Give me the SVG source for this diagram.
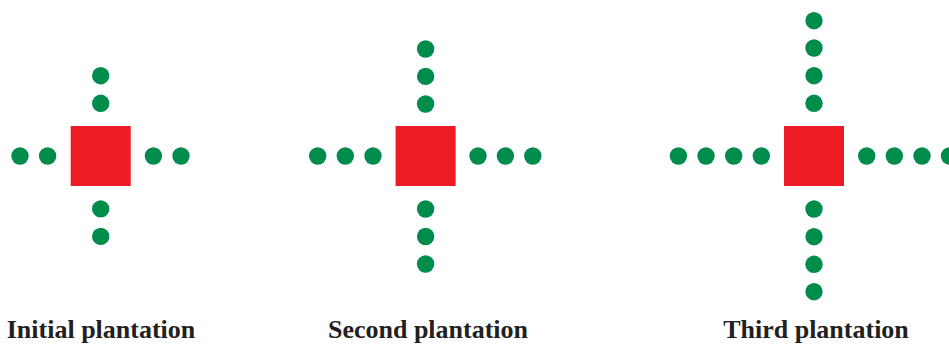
<svg xmlns="http://www.w3.org/2000/svg" width="949" height="345" viewBox="0 0 949 345">
<style>
.sq{fill:#ED1C24}
.d{fill:#008C4B}
.lbl{font-family:"Liberation Serif","Times New Roman",serif;font-weight:bold;font-size:26px;fill:#231F20;text-anchor:middle}
</style>
<rect width="949" height="345" fill="#fff"/>
<g id="connectors"></g>
<g id="initial">
<rect class="sq" x="70.7" y="126" width="60" height="60"/>
<circle class="d" cx="20" cy="156" r="8.7"/>
<circle class="d" cx="47.6" cy="156" r="8.7"/>
<circle class="d" cx="153.4" cy="156" r="8.7"/>
<circle class="d" cx="181" cy="156" r="8.7"/>
<circle class="d" cx="100.7" cy="75.7" r="8.7"/>
<circle class="d" cx="100.7" cy="103.3" r="8.7"/>
<circle class="d" cx="100.7" cy="208.9" r="8.7"/>
<circle class="d" cx="100.7" cy="236.4" r="8.7"/>
<text class="lbl" x="101" y="338">Initial plantation</text>
</g>
<g id="second">
<rect class="sq" x="395.6" y="126" width="60" height="60"/>
<circle class="d" cx="317.7" cy="156" r="8.7"/>
<circle class="d" cx="345.3" cy="156" r="8.7"/>
<circle class="d" cx="373" cy="156" r="8.7"/>
<circle class="d" cx="478" cy="156" r="8.7"/>
<circle class="d" cx="505.4" cy="156" r="8.7"/>
<circle class="d" cx="532.8" cy="156" r="8.7"/>
<circle class="d" cx="425.6" cy="49" r="8.7"/>
<circle class="d" cx="425.6" cy="76.4" r="8.7"/>
<circle class="d" cx="425.6" cy="104" r="8.7"/>
<circle class="d" cx="425.6" cy="209" r="8.7"/>
<circle class="d" cx="425.6" cy="236.5" r="8.7"/>
<circle class="d" cx="425.6" cy="264" r="8.7"/>
<text class="lbl" x="428" y="338">Second plantation</text>
</g>
<g id="third">
<rect class="sq" x="784" y="126" width="60" height="60"/>
<circle class="d" cx="678.4" cy="156" r="8.7"/>
<circle class="d" cx="706" cy="156" r="8.7"/>
<circle class="d" cx="733.7" cy="156" r="8.7"/>
<circle class="d" cx="761.3" cy="156" r="8.7"/>
<circle class="d" cx="866.7" cy="156" r="8.7"/>
<circle class="d" cx="894.3" cy="156" r="8.7"/>
<circle class="d" cx="922" cy="156" r="8.7"/>
<circle class="d" cx="949.5" cy="156" r="8.7"/>
<circle class="d" cx="814" cy="20.7" r="8.7"/>
<circle class="d" cx="814" cy="48" r="8.7"/>
<circle class="d" cx="814" cy="75.7" r="8.7"/>
<circle class="d" cx="814" cy="103.3" r="8.7"/>
<circle class="d" cx="814" cy="209" r="8.7"/>
<circle class="d" cx="814" cy="236.7" r="8.7"/>
<circle class="d" cx="814" cy="264.3" r="8.7"/>
<circle class="d" cx="814" cy="291.7" r="8.7"/>
<text class="lbl" x="816" y="338">Third plantation</text>
</g>
</svg>
